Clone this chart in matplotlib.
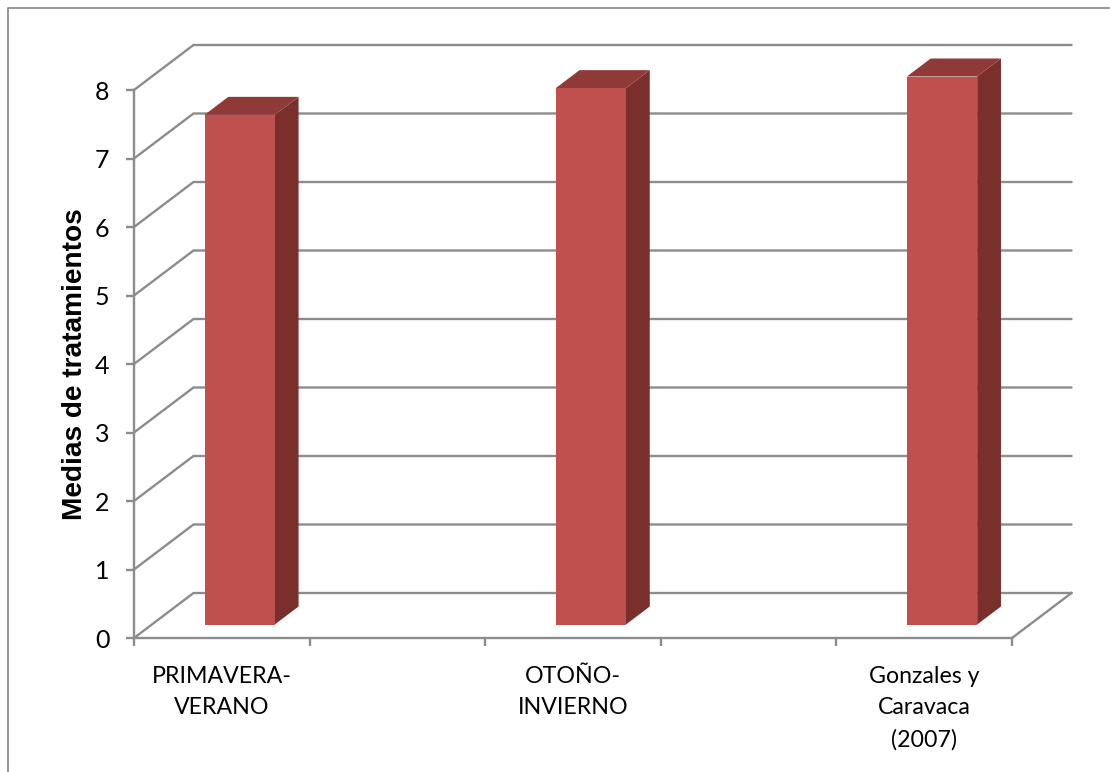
import matplotlib
matplotlib.use("Agg")
import matplotlib.pyplot as plt
from matplotlib.lines import Line2D
from matplotlib.patches import Polygon

categories = ["PRIMAVERA-\nVERANO", "", "OTOÑO-\nINVIERNO", "", "Gonzales y\nCaravaca\n(2007)"]
values = [7.44, None, 7.83, None, 8.0]
y_ticks = [0, 1, 2, 3, 4, 5, 6, 7, 8]
y_label = "Medias de tratamientos"

W, H = 1110, 772
fig = plt.figure(figsize=(W / 100, H / 100), dpi=100)
fig.patch.set_facecolor("white")

L, R, T, B = 134, 1012, 90, 638
ax = fig.add_axes([L / W, 1 - B / H, (R - L) / W, (B - T) / H])
ax.set_xlim(0, len(categories))
ax.set_ylim(0, y_ticks[-1])
ax.patch.set_visible(False)

GRID = "#8C8C8C"
LW = 1.7
FACE, TOP, SIDE = "#C0504D", "#8F3A38", "#7A2F2D"

# depth of the 3-D box, in data units
DX = 59.5 / ((R - L) / len(categories))
DY = 45 / ((B - T) / y_ticks[-1])
n = len(categories)

for v in y_ticks:
    ax.plot([0, DX, n + DX], [v, v + DY, v + DY], color=GRID, lw=LW,
            clip_on=False, zorder=1, solid_capstyle="round")
ax.plot([n, n + DX], [0, DY], color=GRID, lw=LW, clip_on=False, zorder=1)

# bars
f0, f1 = 0.30, 0.70
width = 0.40
for i, v in enumerate(values):
    if v is None:
        continue
    x0 = i + 0.5 - width / 2 + f0 * DX
    x1 = x0 + width
    y0 = f0 * DY
    y1 = y0 + v
    ddx, ddy = (f1 - f0) * DX, (f1 - f0) * DY
    ax.add_patch(Polygon([(x1, y0), (x1 + ddx, y0 + ddy), (x1 + ddx, y1 + ddy), (x1, y1)],
                         closed=True, fc=SIDE, ec="none", clip_on=False, zorder=3))
    ax.add_patch(Polygon([(x0, y1), (x1, y1), (x1 + ddx, y1 + ddy), (x0 + ddx, y1 + ddy)],
                         closed=True, fc=TOP, ec="none", clip_on=False, zorder=3))
    ax.add_patch(Polygon([(x0, y0), (x1, y0), (x1, y1), (x0, y1)],
                         closed=True, fc=FACE, ec="none", clip_on=False, zorder=4))

for s in ("top", "right"):
    ax.spines[s].set_visible(False)
for s in ("left", "bottom"):
    ax.spines[s].set_color(GRID)
    ax.spines[s].set_linewidth(LW)
    ax.spines[s].set_zorder(5)

FONT = "Lato"
ax.set_yticks(y_ticks)
ax.set_yticklabels([str(v) for v in y_ticks], fontfamily=FONT, fontsize=18, color="black")
ax.tick_params(axis="y", length=5.8, width=LW, color=GRID, pad=12)

ax.set_xticks(range(n + 1))
ax.set_xticklabels([])
ax.tick_params(axis="x", which="major", length=5.8, width=LW, color=GRID)
ax.set_xticks([i + 0.5 for i in range(n)], minor=True)
ax.set_xticklabels(categories, minor=True, fontfamily=FONT, fontsize=16.7, color="black",
                   linespacing=1.62, va="top", ha="center")
ax.tick_params(axis="x", which="minor", length=0, pad=20)

fig.text(75 / W, 1 - 364 / H, y_label, rotation=90, ha="center", va="center",
         fontfamily="Liberation Sans", fontweight="bold", fontsize=20.2, color="black")

# outer chart frame (top and left edges)
fig.add_artist(Line2D([7.5 / W, 7.5 / W, 1], [0, 1 - 7.5 / H, 1 - 7.5 / H],
                      color="#8E8E8E", lw=1.3, transform=fig.transFigure))

fig.savefig("out.png", dpi=100)
